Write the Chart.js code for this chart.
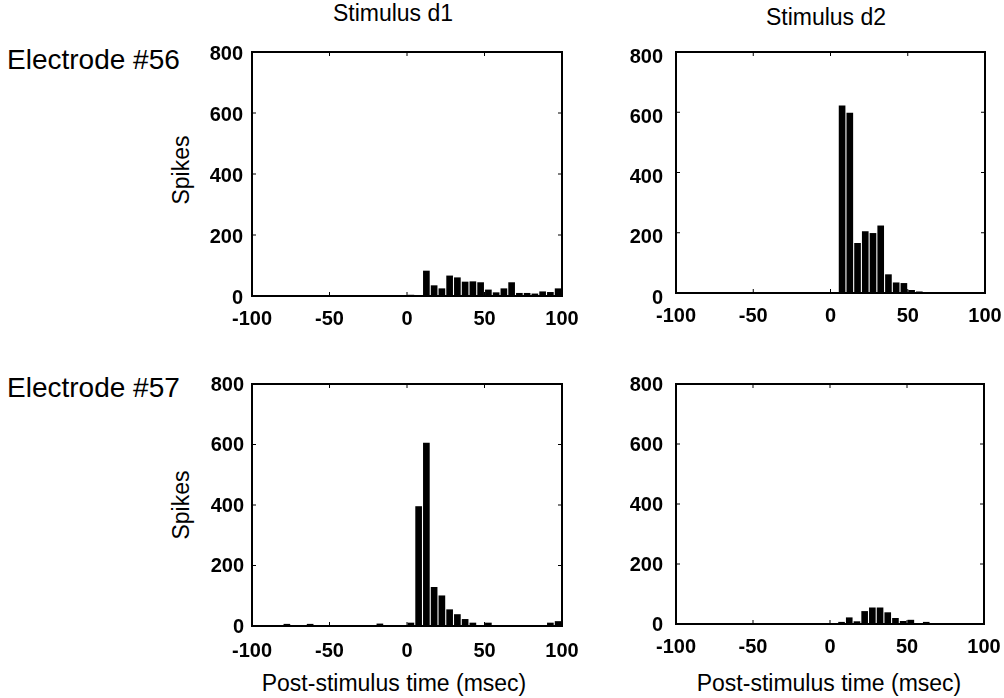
<!DOCTYPE html>
<html>
<head>
<meta charset="utf-8">
<script src="https://cdn.jsdelivr.net/npm/chart.js@4/dist/chart.umd.min.js"></script>
<style>
body { margin: 0; background: #fff; width: 1004px; height: 698px; position: relative; overflow: hidden; font-family: "Liberation Sans", Arial, sans-serif; }
canvas { position: absolute; }
.lbl { position: absolute; font-size: 23px; line-height: 24px; color: #000; white-space: nowrap; }
.big { font-size: 28px; line-height: 28px; }
.ctr { transform: translateX(-50%); }
.rot { transform: translate(-50%, -50%) rotate(-90deg); }
</style>
</head>
<body>
<div class="lbl ctr" style="left:393px; top:1px">Stimulus d1</div>
<div class="lbl ctr" style="left:826px; top:5px">Stimulus d2</div>
<div class="lbl big" style="left:7px; top:46px">Electrode #56</div>
<div class="lbl big" style="left:7px; top:374px">Electrode #57</div>
<div class="lbl rot" style="left:181px; top:170px">Spikes</div>
<div class="lbl rot" style="left:181px; top:505px">Spikes</div>
<div class="lbl ctr" style="left:394px; top:671px">Post-stimulus time (msec)</div>
<div class="lbl ctr" style="left:829px; top:671px">Post-stimulus time (msec)</div>

<canvas id="p1" width="390" height="300" style="left:190px; top:40px"></canvas>
<canvas id="p2" width="390" height="300" style="left:614px; top:40px"></canvas>
<canvas id="p3" width="390" height="300" style="left:190px; top:372px"></canvas>
<canvas id="p4" width="390" height="300" style="left:614px; top:372px"></canvas>

<script>
// 5 msec bins, centre of each bin (msec)
const binCenters = [
	-97.5, -92.5, -87.5, -82.5, -77.5, -72.5, -67.5, -62.5, -57.5, -52.5,
	-47.5, -42.5, -37.5, -32.5, -27.5, -22.5, -17.5, -12.5, -7.5, -2.5,
	2.5, 7.5, 12.5, 17.5, 22.5, 27.5, 32.5, 37.5, 42.5, 47.5,
	52.5, 57.5, 62.5, 67.5, 72.5, 77.5, 82.5, 87.5, 92.5, 97.5,
]

const xTicks = [-100, -50, 0, 50, 100]
const yTicks = [0, 200, 400, 600, 800]

// Electrode #56, stimulus d1
const e56d1 = [
	0, 0, 0, 0, 0, 0, 0, 0, 0, 0,
	0, 0, 0, 0, 0, 0, 0, 0, 0, 0,
	4, 0, 83, 35, 25, 67, 61, 47, 48, 45,
	21, 12, 25, 45, 10, 10, 8, 15, 13, 25,
]

// Electrode #56, stimulus d2
const e56d2 = [
	0, 0, 0, 0, 0, 0, 0, 0, 0, 0,
	0, 0, 0, 0, 0, 0, 0, 0, 0, 0,
	2, 622, 598, 166, 205, 199, 224, 62, 35, 33,
	10, 5, 1, 0, 0, 0, 0, 0, 0, 0,
]

// Electrode #57, stimulus d1
const e57d1 = [
	2, 2, 1, 2, 7, 1, 2, 7, 1, 1,
	2, 1, 1, 2, 1, 1, 8, 1, 1, 2,
	11, 396, 606, 129, 101, 55, 39, 23, 11, 2,
	11, 2, 1, 1, 1, 1, 1, 2, 11, 16,
]

// Electrode #57, stimulus d2
const e57d2 = [
	0, 0, 0, 0, 0, 0, 0, 0, 0, 0,
	0, 0, 0, 0, 0, 0, 0, 0, 0, 0,
	3, 7, 22, 9, 43, 55, 55, 39, 20, 10,
	14, 2, 7, 2, 0, 2, 0, 0, 0, 0,
]

const tickFont = { family: "'Liberation Sans', Arial, sans-serif", size: 20, weight: 'bold' }

// black box round the plot area, with short inward tick marks
const frame = {
	id: 'frame',
	afterDraw(chart) {
		const { ctx, chartArea: a, scales } = chart
		ctx.save()
		ctx.strokeStyle = '#000'
		ctx.lineWidth = 2
		ctx.strokeRect(a.left, a.top, a.right - a.left, a.bottom - a.top)
		ctx.lineWidth = 1
		ctx.beginPath()
		for (const v of [200, 400, 600]) {
			const y = scales.y.getPixelForValue(v)
			ctx.moveTo(a.left, y); ctx.lineTo(a.left + 4, y)
			ctx.moveTo(a.right, y); ctx.lineTo(a.right - 4, y)
		}
		for (const v of [-50, 0, 50]) {
			const x = scales.x.getPixelForValue(v)
			ctx.moveTo(x, a.bottom); ctx.lineTo(x, a.bottom - 4)
			ctx.moveTo(x, a.top); ctx.lineTo(x, a.top + 4)
		}
		ctx.stroke()
		ctx.restore()
	}
}

function makePanel(id, values, padRight, xHeight, xPad, yPad, yShift) {
	new Chart(document.getElementById(id), {
		type: 'bar',
		data: {
			datasets: [{
				data: binCenters.map((x, i) => ({ x: x, y: values[i] })),
				backgroundColor: '#000',
				barPercentage: 0.86,
				categoryPercentage: 1,
			}],
		},
		options: {
			responsive: false,
			animation: false,
			devicePixelRatio: 1,
			layout: { padding: { top: 12, right: padRight, left: 0, bottom: 0 } },
			plugins: {
				legend: { display: false },
				tooltip: { enabled: false },
			},
			scales: {
				x: {
					type: 'linear',
					min: -100,
					max: 100,
					offset: false,
					grid: { display: false, drawTicks: false },
					border: { display: false },
					afterBuildTicks: s => { s.ticks = xTicks.map(v => ({ value: v })) },
					afterFit: s => { s.height = xHeight; s.paddingLeft = 0; s.paddingRight = 0 },
					ticks: { font: tickFont, color: '#000', padding: xPad, maxRotation: 0, autoSkip: false },
				},
				y: {
					min: 0,
					max: 800,
					grid: { display: false, drawTicks: false },
					border: { display: false },
					afterBuildTicks: s => { s.ticks = yTicks.map(v => ({ value: v })) },
					afterFit: s => { s.width = 62; s.paddingTop = 0; s.paddingBottom = 0 },
					ticks: { font: tickFont, color: '#000', padding: yPad, labelOffset: yShift },
				},
			},
		},
		plugins: [frame],
	})
}

makePanel('p1', e56d1, 18, 44, 11, 9, 2)
makePanel('p2', e56d2, 19, 47, 11, 13, 5)
makePanel('p3', e57d1, 18, 46, 13, 8, 1)
makePanel('p4', e57d2, 20, 48, 11, 13, 1)
</script>
</body>
</html>
